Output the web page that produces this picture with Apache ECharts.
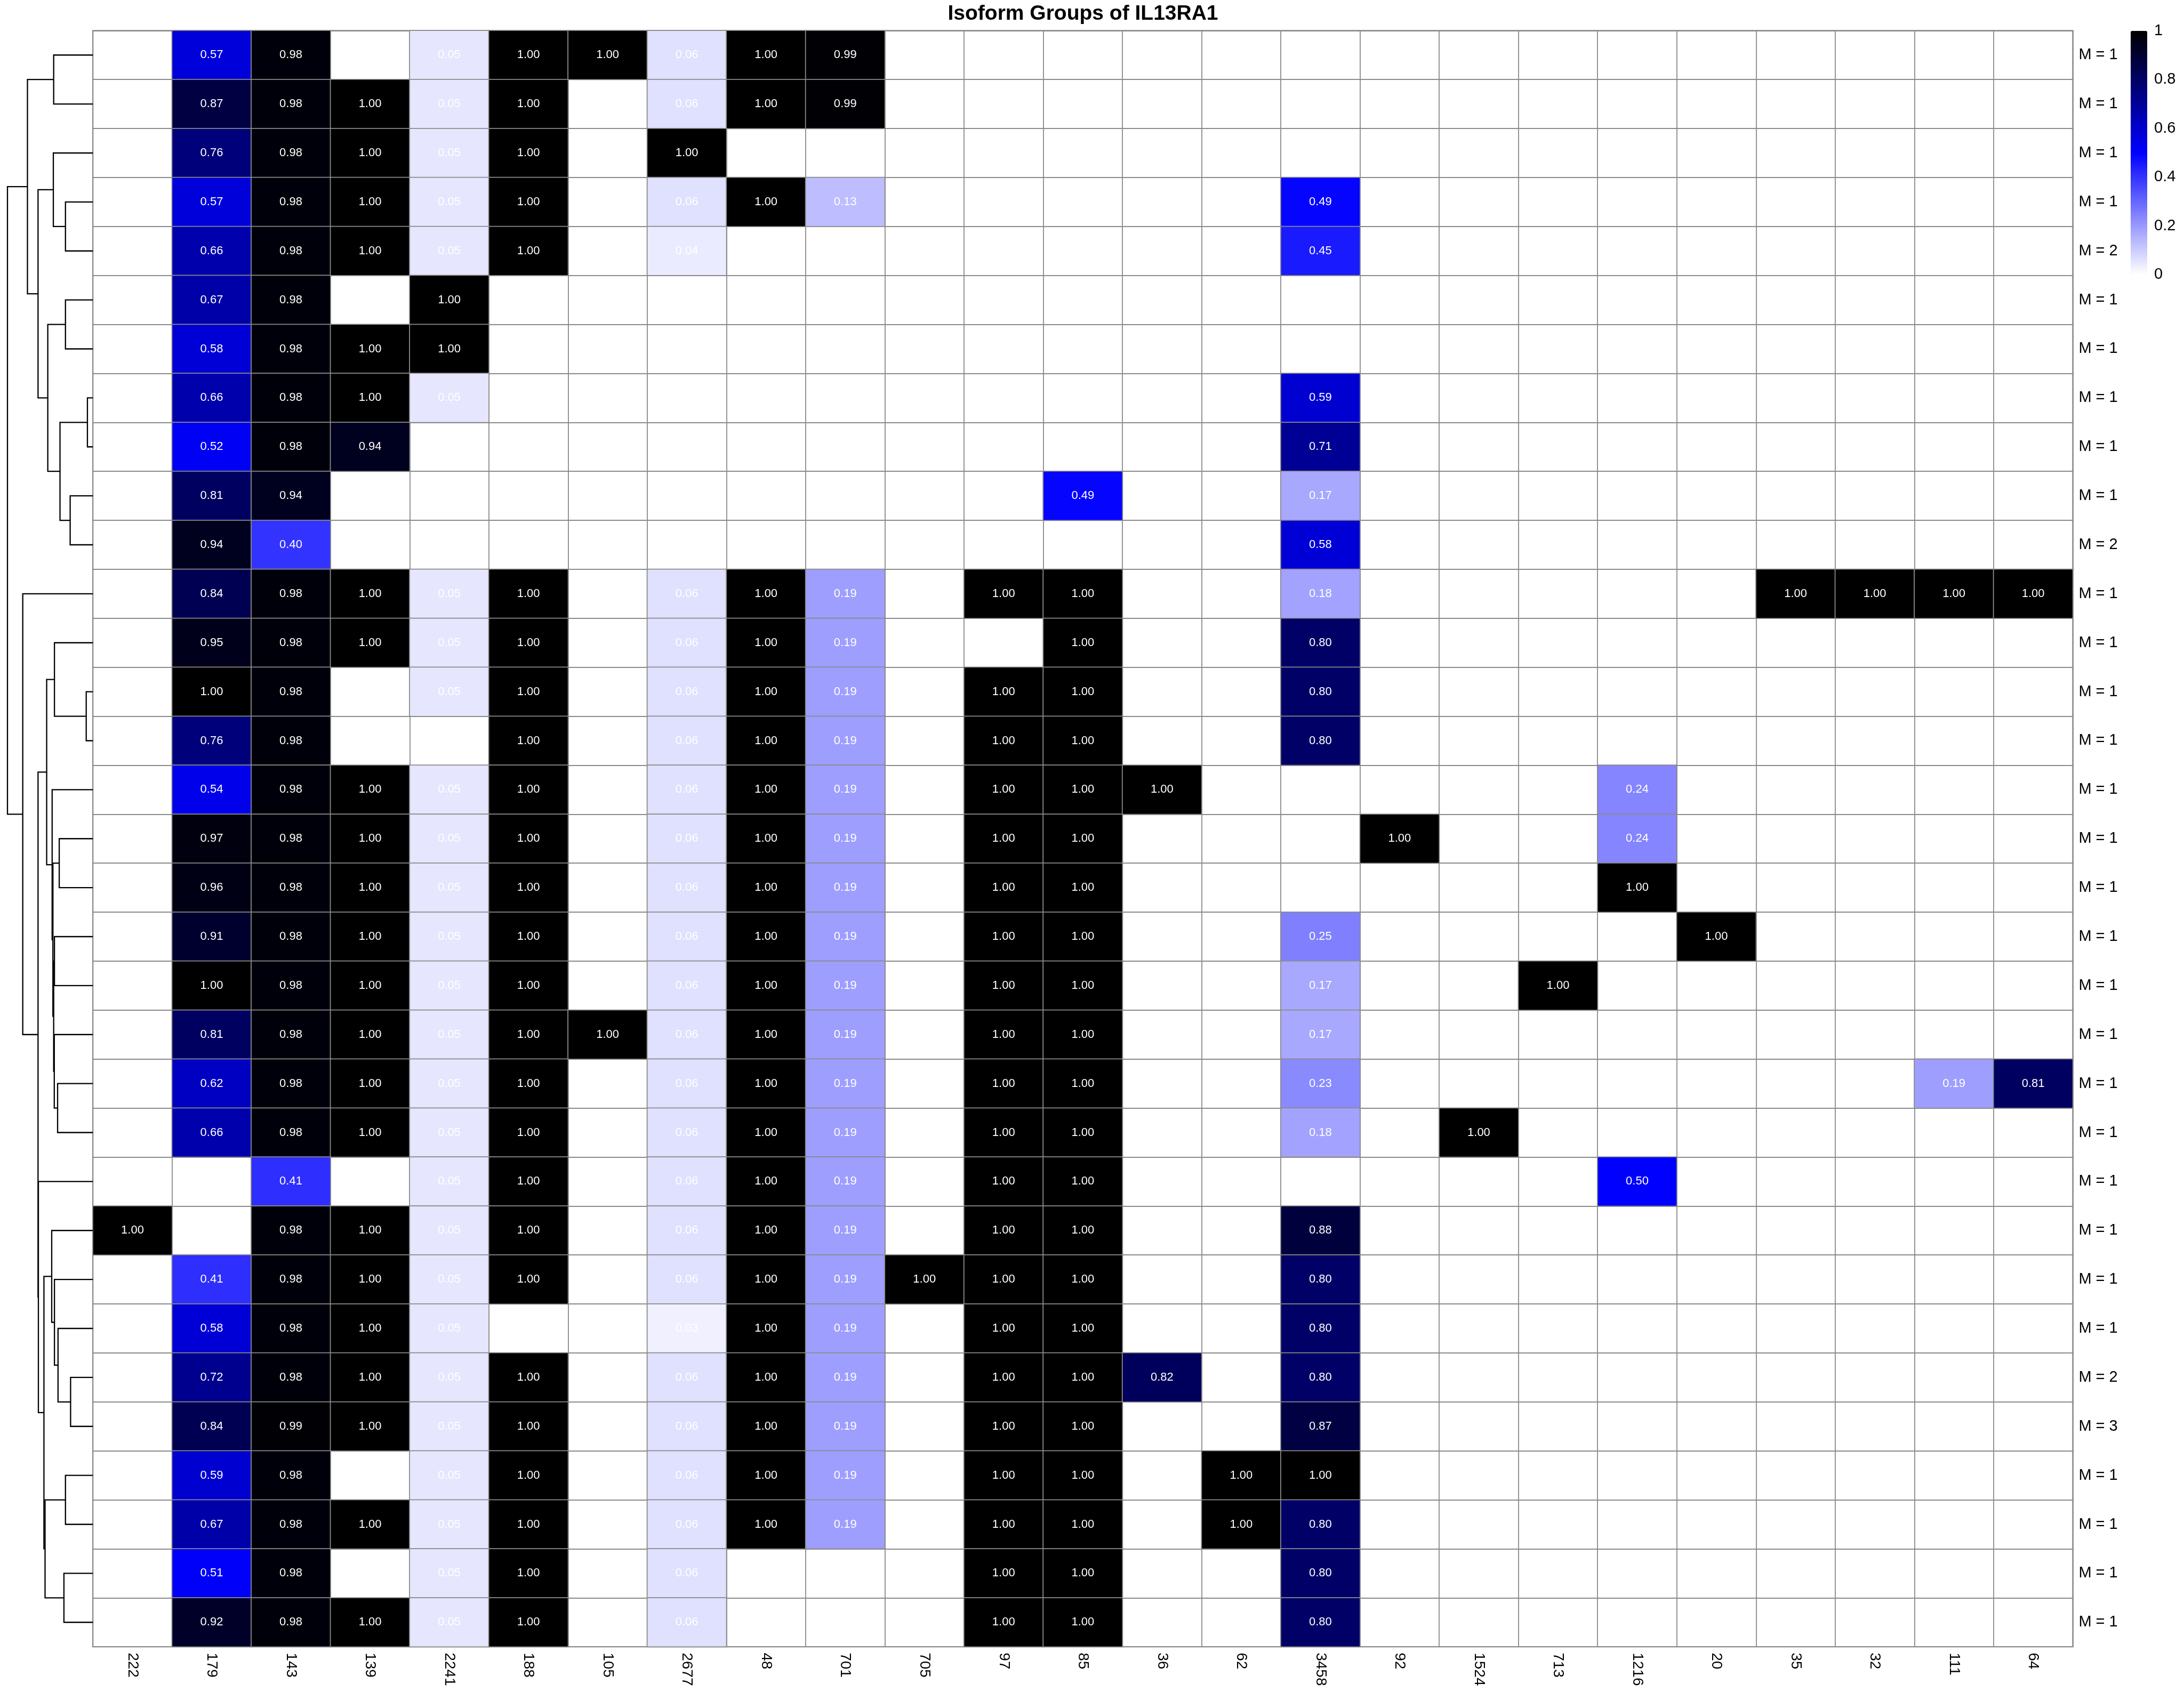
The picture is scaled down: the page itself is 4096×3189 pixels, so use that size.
<!DOCTYPE html>
<html><head><meta charset="utf-8">
<script src="https://cdn.jsdelivr.net/npm/echarts@6/dist/echarts.min.js"></script>
<style>html,body{margin:0;padding:0;background:#fff}#c{width:4096px;height:3189px}</style>
</head><body><div id="c"></div>
<script>
const _ = null;
const chartTitle = 'Isoform Groups of IL13RA1';
const columns = ['222','179','143','139','2241','188','105','2677','48','701','705','97','85','36','62','3458','92','1524','713','1216','20','35','32','111','64'];
const rowLabels = ['M = 1','M = 1','M = 1','M = 1','M = 2','M = 1','M = 1','M = 1','M = 1','M = 1','M = 2',
  'M = 1','M = 1','M = 1','M = 1','M = 1','M = 1','M = 1','M = 1','M = 1','M = 1','M = 1','M = 1','M = 1',
  'M = 1','M = 1','M = 1','M = 2','M = 3','M = 1','M = 1','M = 1','M = 1'];
// one row per isoform, one entry per column (null = empty cell)
const values = [
 [_, .57, .98, _, .05,  1, 1, .06, 1, .99,  _, _, _, _, _,  _, _, _, _, _,  _, _, _, _, _],
 [_, .87, .98, 1, .05,  1, _, .06, 1, .99,  _, _, _, _, _,  _, _, _, _, _,  _, _, _, _, _],
 [_, .76, .98, 1, .05,  1, _, 1, _, _,  _, _, _, _, _,  _, _, _, _, _,  _, _, _, _, _],
 [_, .57, .98, 1, .05,  1, _, .06, 1, .13,  _, _, _, _, _,  .49, _, _, _, _,  _, _, _, _, _],
 [_, .66, .98, 1, .05,  1, _, .04, _, _,  _, _, _, _, _,  .45, _, _, _, _,  _, _, _, _, _],
 [_, .67, .98, _, 1,  _, _, _, _, _,  _, _, _, _, _,  _, _, _, _, _,  _, _, _, _, _],
 [_, .58, .98, 1, 1,  _, _, _, _, _,  _, _, _, _, _,  _, _, _, _, _,  _, _, _, _, _],
 [_, .66, .98, 1, .05,  _, _, _, _, _,  _, _, _, _, _,  .59, _, _, _, _,  _, _, _, _, _],
 [_, .52, .98, .94, _,  _, _, _, _, _,  _, _, _, _, _,  .71, _, _, _, _,  _, _, _, _, _],
 [_, .81, .94, _, _,  _, _, _, _, _,  _, _, .49, _, _,  .17, _, _, _, _,  _, _, _, _, _],
 [_, .94, .40, _, _,  _, _, _, _, _,  _, _, _, _, _,  .58, _, _, _, _,  _, _, _, _, _],
 [_, .84, .98, 1, .05,  1, _, .06, 1, .19,  _, 1, 1, _, _,  .18, _, _, _, _,  _, 1, 1, 1, 1],
 [_, .95, .98, 1, .05,  1, _, .06, 1, .19,  _, _, 1, _, _,  .80, _, _, _, _,  _, _, _, _, _],
 [_, 1, .98, _, .05,  1, _, .06, 1, .19,  _, 1, 1, _, _,  .80, _, _, _, _,  _, _, _, _, _],
 [_, .76, .98, _, _,  1, _, .06, 1, .19,  _, 1, 1, _, _,  .80, _, _, _, _,  _, _, _, _, _],
 [_, .54, .98, 1, .05,  1, _, .06, 1, .19,  _, 1, 1, 1, _,  _, _, _, _, .24,  _, _, _, _, _],
 [_, .97, .98, 1, .05,  1, _, .06, 1, .19,  _, 1, 1, _, _,  _, 1, _, _, .24,  _, _, _, _, _],
 [_, .96, .98, 1, .05,  1, _, .06, 1, .19,  _, 1, 1, _, _,  _, _, _, _, 1,  _, _, _, _, _],
 [_, .91, .98, 1, .05,  1, _, .06, 1, .19,  _, 1, 1, _, _,  .25, _, _, _, _,  1, _, _, _, _],
 [_, 1, .98, 1, .05,  1, _, .06, 1, .19,  _, 1, 1, _, _,  .17, _, _, 1, _,  _, _, _, _, _],
 [_, .81, .98, 1, .05,  1, 1, .06, 1, .19,  _, 1, 1, _, _,  .17, _, _, _, _,  _, _, _, _, _],
 [_, .62, .98, 1, .05,  1, _, .06, 1, .19,  _, 1, 1, _, _,  .23, _, _, _, _,  _, _, _, .19, .81],
 [_, .66, .98, 1, .05,  1, _, .06, 1, .19,  _, 1, 1, _, _,  .18, _, 1, _, _,  _, _, _, _, _],
 [_, _, .41, _, .05,  1, _, .06, 1, .19,  _, 1, 1, _, _,  _, _, _, _, .50,  _, _, _, _, _],
 [1, _, .98, 1, .05,  1, _, .06, 1, .19,  _, 1, 1, _, _,  .88, _, _, _, _,  _, _, _, _, _],
 [_, .41, .98, 1, .05,  1, _, .06, 1, .19,  1, 1, 1, _, _,  .80, _, _, _, _,  _, _, _, _, _],
 [_, .58, .98, 1, .05,  _, _, .03, 1, .19,  _, 1, 1, _, _,  .80, _, _, _, _,  _, _, _, _, _],
 [_, .72, .98, 1, .05,  1, _, .06, 1, .19,  _, 1, 1, .82, _,  .80, _, _, _, _,  _, _, _, _, _],
 [_, .84, .99, 1, .05,  1, _, .06, 1, .19,  _, 1, 1, _, _,  .87, _, _, _, _,  _, _, _, _, _],
 [_, .59, .98, _, .05,  1, _, .06, 1, .19,  _, 1, 1, _, 1,  1, _, _, _, _,  _, _, _, _, _],
 [_, .67, .98, 1, .05,  1, _, .06, 1, .19,  _, 1, 1, _, 1,  .80, _, _, _, _,  _, _, _, _, _],
 [_, .51, .98, _, .05,  1, _, .06, _, _,  _, 1, 1, _, _,  .80, _, _, _, _,  _, _, _, _, _],
 [_, .92, .98, 1, .05,  1, _, .06, _, _,  _, 1, 1, _, _,  .80, _, _, _, _,  _, _, _, _, _]
];
// row dendrogram, hclust style: negative = leaf (row number), positive = earlier merge
const mergeLeft   = [-1,-4,-3,-6,-8,-10,5,4,3,1,-14,-13,-17,-19,-22,-21,14,13,-16,12,-28,-27,-26,-25,-30,-32,25,24,-24,20,-12,10];
const mergeRight  = [-2,-5,2,-7,-9,-11,6,7,8,9,-15,11,-18,-20,-23,15,16,17,18,19,-29,21,22,23,-31,-33,26,27,28,29,30,31];
const mergeHeight = [.459,.321,.463,.321,.064,.266,.385,.528,.642,.766,.078,.450,.394,.450,.413,.452,.459,.468,.477,.541,
                     .261,.408,.450,.482,.321,.339,.560,.573,.638,.642,.821,1.0];
const colorStops = ['#ffffff','#0000ff','#000000'];

const rowIds = rowLabels.map((_, i) => 'r' + (i + 1));
const heatData = [];
values.forEach((row, r) => row.forEach((v, c) => { if (v !== null) heatData.push([c, r, v]); }));

const nodeY = [];
function childPos(c) { return c < 0 ? [0, -c] : [mergeHeight[c - 1], nodeY[c - 1]]; }
const dendroData = [];
for (let i = 0; i < mergeHeight.length; i++) {
  const a = childPos(mergeLeft[i]), b = childPos(mergeRight[i]);
  nodeY[i] = (a[1] + b[1]) / 2;
  dendroData.push([mergeHeight[i], nodeY[i], a[0], a[1], b[0], b[1]]);
}

const FONT = 'Liberation Sans, Arial, Helvetica, sans-serif';
const GRID_T = 57.3, GRID_B = 99.8;
const LINE = '#8a8a8a';

const chart = echarts.init(document.getElementById('c'), null, {renderer: 'canvas'});
chart.setOption({
  animation: false,
  backgroundColor: '#ffffff',
  textStyle: {fontFamily: FONT},
  title: {text: chartTitle, left: 2031, top: 7, textAlign: 'center', padding: 0,
    textStyle: {fontSize: 39, fontWeight: 'bold', color: '#000', fontFamily: FONT}},
  grid: [
    {left: 174.2, right: 208.6, top: GRID_T, bottom: GRID_B, show: true, borderColor: LINE, borderWidth: 2.2, backgroundColor: '#fff'},
    {left: 14, width: 160.2, top: GRID_T, bottom: GRID_B, show: false},
    {left: 3996, width: 31, top: 58, height: 457, show: false}
  ],
  xAxis: [
    {gridIndex: 0, type: 'category', data: columns, position: 'bottom',
      axisLine: {show: false}, axisTick: {show: false},
      splitLine: {show: true, interval: 0, lineStyle: {color: LINE, width: 1.8}},
      axisLabel: {rotate: -90, margin: 11, fontSize: 28, color: '#000', interval: 0, fontFamily: FONT}},
    {gridIndex: 1, type: 'value', min: 0, max: 1, inverse: true, show: false},
    {gridIndex: 2, type: 'value', min: 0, max: 1, show: false}
  ],
  yAxis: [
    {gridIndex: 0, type: 'category', data: rowIds, inverse: true, position: 'right',
      axisLine: {show: false}, axisTick: {show: false},
      splitLine: {show: true, interval: 0, lineStyle: {color: LINE, width: 1.8}},
      axisLabel: {margin: 11, fontSize: 29, color: '#000', interval: 0, fontFamily: FONT,
        formatter: (v, i) => rowLabels[i]}},
    {gridIndex: 1, type: 'value', min: 0.5, max: rowLabels.length + 0.5, inverse: true, show: false},
    {gridIndex: 2, type: 'value', min: 0, max: 1, interval: 0.2, position: 'right',
      axisLine: {show: false}, axisTick: {show: false}, splitLine: {show: false},
      axisLabel: {margin: 13, fontSize: 29, color: '#000', fontFamily: FONT}}
  ],
  visualMap: {
    type: 'continuous', min: 0, max: 1, seriesIndex: 0, dimension: 2, calculable: false,
    orient: 'vertical', left: 3996, top: 58, itemWidth: 31, itemHeight: 457, padding: 0,
    inRange: {color: colorStops}, textStyle: {fontSize: 0}
  },
  series: [
    {type: 'heatmap', xAxisIndex: 0, yAxisIndex: 0, data: heatData,
      itemStyle: {borderColor: LINE, borderWidth: 1.8},
      label: {show: true, color: '#fff', fontSize: 22, fontFamily: FONT,
        formatter: p => p.value[2].toFixed(2)},
      emphasis: {disabled: true}},
    {type: 'custom', xAxisIndex: 1, yAxisIndex: 1, data: dendroData, silent: true,
      renderItem: (params, api) => {
        const h = api.value(0), hl = api.value(2), yl = api.value(3), hr = api.value(4), yr = api.value(5);
        const pts = [api.coord([hl, yl]), api.coord([h, yl]), api.coord([h, yr]), api.coord([hr, yr])];
        return {type: 'polyline', shape: {points: pts}, style: {stroke: '#000', lineWidth: 2.3, fill: null}};
      }},
    {type: 'scatter', xAxisIndex: 2, yAxisIndex: 2, data: []}
  ]
});
</script></body></html>
